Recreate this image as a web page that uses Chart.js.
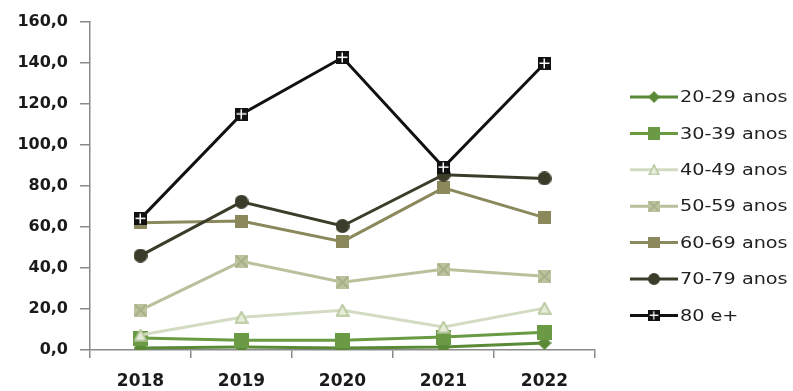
<!DOCTYPE html>
<html>
<head>
<meta charset="utf-8">
<script src="https://cdn.jsdelivr.net/npm/chart.js@4/dist/chart.umd.min.js"></script>
<style>
  html, body { margin: 0; padding: 0; background: #fff; }
  #wrap { width: 793px; height: 391px; }
</style>
</head>
<body>
<div id="wrap"><canvas id="ageChart" width="793" height="391"></canvas></div>
<script>
const years = ['2018', '2019', '2020', '2021', '2022'];
const seriesNames = ['20-29 anos', '30-39 anos', '40-49 anos', '50-59 anos', '60-69 anos', '70-79 anos', '80 e+'];
const v20_29 = [1.0, 1.5, 1.0, 1.5, 3.4];
const v30_39 = [5.8, 4.8, 4.8, 6.3, 8.7];
const v40_49 = [7.3, 16.0, 19.4, 11.2, 20.4];
const v50_59 = [19.4, 43.2, 33.0, 39.3, 35.9];
const v60_69 = [62.0, 62.8, 52.8, 79.0, 64.5];
const v70_79 = [46.0, 72.2, 60.4, 85.4, 83.6];
const v80plus = [64.0, 114.9, 142.5, 89.0, 139.6];
const yTicks = [0, 20, 40, 60, 80, 100, 120, 140, 160];

// small canvas markers, one per series
function marker(w, h, draw) {
  const c = document.createElement('canvas');
  c.width = w; c.height = h;
  draw(c.getContext('2d'), w, h);
  return c;
}

const mDiamond = marker(14, 14, (g, w, h) => {
  g.fillStyle = '#5b8a37';
  g.beginPath();
  g.moveTo(w / 2, 0); g.lineTo(w, h / 2); g.lineTo(w / 2, h); g.lineTo(0, h / 2);
  g.closePath(); g.fill();
});
const mSquareGreen = marker(15, 15, (g, w, h) => {
  g.fillStyle = '#6a9a44';
  g.fillRect(0, 0, w, h);
});
const mTriangle = marker(14, 13, (g, w, h) => {
  g.fillStyle = '#e6ecda';
  g.strokeStyle = '#b2c396';
  g.lineWidth = 1.6;
  g.beginPath();
  g.moveTo(w / 2, 1); g.lineTo(w - 1, h - 1); g.lineTo(1, h - 1);
  g.closePath(); g.fill(); g.stroke();
});
const mCrossSquare = marker(13, 13, (g, w, h) => {
  g.fillStyle = '#bcc49f';
  g.fillRect(0, 0, w, h);
  g.strokeStyle = '#a7b088';
  g.lineWidth = 2;
  g.beginPath();
  g.moveTo(1, 1); g.lineTo(w - 1, h - 1);
  g.moveTo(w - 1, 1); g.lineTo(1, h - 1);
  g.stroke();
});
const mSquareOlive = marker(13, 13, (g, w, h) => {
  g.fillStyle = '#8b895b';
  g.fillRect(0, 0, w, h);
});
const mCircle = marker(14, 14, (g, w, h) => {
  g.fillStyle = '#3c3c2a';
  g.beginPath();
  g.arc(w / 2, h / 2, w / 2, 0, Math.PI * 2);
  g.fill();
});
const mWindow = marker(13, 13, (g, w, h) => {
  g.fillStyle = '#111';
  g.fillRect(0, 0, w, h);
  g.fillStyle = '#fff';
  g.fillRect(Math.floor(w / 2) - 0.5, 1.5, 1.5, h - 3);
  g.fillRect(1.5, Math.floor(h / 2) - 0.5, w - 3, 1.5);
});

const seriesValues = [v20_29, v30_39, v40_49, v50_59, v60_69, v70_79, v80plus];
const lineColors = ['#5b8a37', '#6a9a44', '#d3dcc2', '#b9c19c', '#8b895b', '#3c3c2a', '#111111'];
const markers = [mDiamond, mSquareGreen, mTriangle, mCrossSquare, mSquareOlive, mCircle, mWindow];

const datasets = seriesNames.map((name, i) => ({
  label: name,
  data: seriesValues[i],
  borderColor: lineColors[i],
  borderWidth: 3,
  pointStyle: markers[i],
  pointRadius: 7,
  pointHoverRadius: 7,
  tension: 0,
  fill: false,
  order: seriesNames.length - i
}));

// legend on the right: short line, marker, label
const sideLegend = {
  id: 'sideLegend',
  afterDraw(chart) {
    const ctx = chart.ctx;
    const x0 = 630, x1 = 678, top = 97, step = 36.4;
    ctx.save();
    seriesNames.forEach((name, i) => {
      const y = top + i * step;
      ctx.strokeStyle = lineColors[i];
      ctx.lineWidth = 3;
      ctx.beginPath();
      ctx.moveTo(x0, y); ctx.lineTo(x1, y);
      ctx.stroke();
      const m = markers[i];
      const s = 0.85;
      ctx.drawImage(m, (x0 + x1) / 2 - m.width * s / 2, y - m.height * s / 2, m.width * s, m.height * s);
      ctx.save();
      ctx.translate(680, y);
      ctx.scale(1.2, 1);
      ctx.fillStyle = '#222';
      ctx.font = '16px "DejaVu Sans"';
      ctx.textBaseline = 'middle';
      ctx.fillText(name, 0, 1);
      ctx.restore();
    });
    ctx.restore();
  }
};

new Chart(document.getElementById('ageChart').getContext('2d'), {
  type: 'line',
  data: { labels: years, datasets: datasets },
  options: {
    responsive: false,
    animation: false,
    events: [],
    layout: { padding: { top: 16, right: 198, left: 0, bottom: 0 } },
    plugins: { legend: { display: false }, tooltip: { enabled: false } },
    scales: {
      x: {
        offset: true,
        grid: { offset: true, drawOnChartArea: false, drawTicks: true, tickLength: 8, color: '#8a8a8a', lineWidth: 1.5 },
        border: { color: '#8a8a8a', width: 1.5 },
        ticks: { color: '#1a1a1a', font: { family: 'DejaVu Sans', size: 17, weight: 'bold' }, padding: 13, maxRotation: 0 },
        afterFit(scale) { scale.height = 41; }
      },
      y: {
        min: 0,
        max: 160,
        afterBuildTicks(scale) { scale.ticks = yTicks.map(v => ({ value: v })); },
        grid: { drawOnChartArea: false, drawTicks: true, tickLength: 10, color: '#8a8a8a', lineWidth: 1.5 },
        border: { color: '#8a8a8a', width: 1.5 },
        ticks: {
          color: '#1a1a1a',
          font: { family: 'DejaVu Sans', size: 16, weight: 'bold' },
          padding: 12,
          callback: v => v.toFixed(1).replace('.', ',')
        },
        afterFit(scale) { scale.width = 90; }
      }
    }
  },
  plugins: [sideLegend]
});
</script>
</body>
</html>
